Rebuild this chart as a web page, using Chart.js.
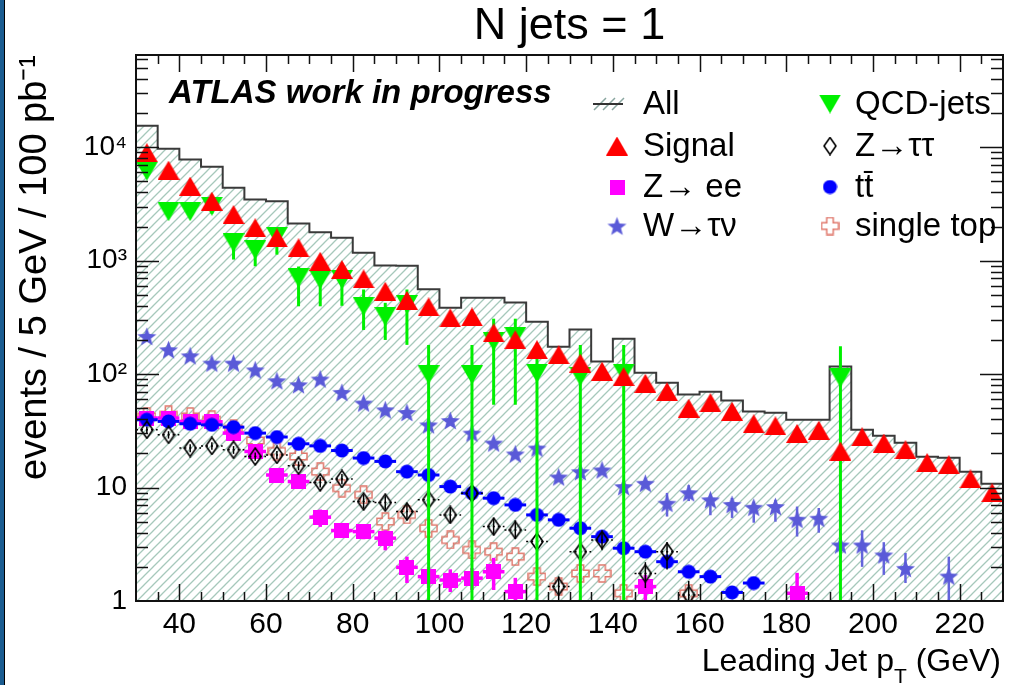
<!DOCTYPE html>
<html>
<head>
<meta charset="utf-8">
<script src="https://cdn.jsdelivr.net/npm/chart.js@4.4.1/dist/chart.umd.min.js"></script>
<style>
    html, body { margin: 0; padding: 0; background: #fff; }
</style>
</head>
<body>
<canvas id="chart_pt" width="1012" height="685"></canvas>
<script>
// 5 GeV bins of the leading jet pT
const binCenters = [32.5, 37.5, 42.5, 47.5, 52.5, 57.5, 62.5, 67.5, 72.5, 77.5,
    82.5, 87.5, 92.5, 97.5, 102.5, 107.5, 112.5, 117.5, 122.5, 127.5,
    132.5, 137.5, 142.5, 147.5, 152.5, 157.5, 162.5, 167.5, 172.5, 177.5,
    182.5, 187.5, 192.5, 197.5, 202.5, 207.5, 212.5, 217.5, 222.5, 227.5];

const allEvents = [15500, 9700, 7800, 6730, 4390, 3460, 3340, 2125, 1782, 1590,
    1172, 905, 900, 560, 385, 472, 472, 427, 290, 174,
    247, 129, 205, 103, 84, 66, 70, 58.6, 46.9, 45.6,
    39.6, 39.6, 117, 32.3, 28.6, 24.8, 18.7, 18.3, 13.8, 10.8];

const signal = [8940, 6280, 4540, 3340, 2550, 1950, 1590, 1297, 988, 835,
    691, 537, 447, 391, 313, 319, 231, 201, 164, 148,
    125, 106, 95, 83, 70, 50, 56, 47, 36.5, 35,
    30, 32, 21, 28, 24.7, 21.5, 16.6, 15.9, 11.9, 9.0];

const qcdJets = [6150, 2700, 2700, 3020, 1435, 1250, 1640, 705, 681, 681,
    396, 323, 411, 98.8, null, 98.8, 194, 215, 102, null,
    95.4, null, 102, null, null, null, null, null, null, null,
    null, null, 92.5, null, null, null, null, null, null, null];
const qcdLo = [5700, 2550, 2550, 2600, 1023, 893, 1130, 396, 396, 400,
    245, 200, 181, 0, null, 0, 53.7, 53.7, 0, null,
    0, null, 0, null, null, null, null, null, null, null,
    null, null, 0, null, null, null, null, null, null, null];
const qcdHi = [6600, 2850, 2850, 3400, 1700, 1483, 1882, 888, 870, 888,
    557, 425, 557, 181, null, 181, 308, 308, 143, null,
    181, null, 181, null, null, null, null, null, null, null,
    null, null, 176, null, null, null, null, null, null, null];

const zee = [41, 41, 38.3, 38, 30.2, 20.8, 12.9, 11.3, 5.48, 4.18,
    4.09, 3.58, 1.98, 1.64, 1.53, 1.59, 1.81, 1.21, null, null,
    null, null, null, 1.34, null, null, null, null, null, null,
    1.17, null, null, null, null, null, null, null, null, null];
const zeeLo = [39, 39, 36, 36, 28.5, 19.3, 11.8, 10.3, 4.5, 3.6,
    3.5, 2.8, 1.44, 1.3, 1.2, 1.25, 1.25, 0.9, null, null,
    null, null, null, 1.0, null, null, null, null, null, null,
    1.0, null, null, null, null, null, null, null, null, null];
const zeeHi = [43, 43, 40.6, 40, 32, 22.4, 14.1, 12.4, 6.4, 4.8,
    4.7, 4.2, 2.46, 2.0, 1.9, 1.95, 2.4, 1.6, null, null,
    null, null, null, 1.7, null, null, null, null, null, null,
    1.77, null, null, null, null, null, null, null, null, null];

const wTauNu = [215, 164, 145, 125, 125, 109, 87.5, 80.6, 90.5, 69,
    55.6, 48.5, 45.9, 35.7, 39, 30.2, 24.7, 19.8, 22.3, 12.4,
    13.8, 14.3, 10.2, 10.9, 7.28, 9.0, 7.8, 7.1, 6.7, 6.8,
    5.26, 5.37, 3.12, 3.12, 2.55, 1.94, null, 1.66, null, null];
const wLo = [null, null, null, null, null, null, null, null, null, null,
    null, null, null, null, null, null, null, null, null, null,
    null, null, null, null, 5.55, 7.6, 5.7, 5.4, 4.9, 5.0,
    3.7, 4.0, 2.4, 2.0, 1.7, 1.44, null, 0, null, null];
const wHi = [null, null, null, null, null, null, null, null, null, null,
    null, null, null, null, null, null, null, null, null, null,
    null, null, null, null, 8.97, 10.5, 8.6, 8.1, 7.5, 7.8,
    6.8, 6.6, 4.0, 4.2, 3.3, 2.65, null, 2.46, null, null];

const zTauTau = [32.3, 29.2, 22.3, 23.3, 21.5, 18.8, 19.4, 15.6, 11.1, 11.9,
    7.53, 7.37, 6.14, 7.79, 5.74, 8.9, 4.53, 4.23, 3.34, 1.34,
    2.72, 3.45, null, 1.75, 2.72, 1.13, null, null, null, null,
    null, null, null, null, null, null, null, null, null, null];
const zttLo = [30, 27, 20.5, 21.5, 19.8, 17.2, 17.8, 14.2, 10, 10.7,
    6.6, 6.4, 5.3, 6.7, 4.9, 7.5, 3.8, 3.5, 2.65, 1.0,
    2.1, 2.8, null, 1.3, 1.9, 0.8, null, null, null, null,
    null, null, null, null, null, null, null, null, null, null];
const zttHi = [34.6, 31.4, 24.1, 25.1, 23.2, 20.4, 21, 17, 12.3, 13.2,
    8.6, 8.4, 7.1, 9.0, 6.7, 10.5, 5.4, 5.1, 4.1, 1.65,
    3.4, 4.1, null, 2.2, 3.3, 1.5, null, null, null, null,
    null, null, null, null, null, null, null, null, null, null];

const ttbar = [39.6, 38.3, 36.5, 35.7, 34.1, 30.2, 27.9, 24.3, 23.3, 21.2,
    18.2, 17.0, 13.8, 12.9, 10.2, 8.92, 8.06, 7.03, 5.74, 5.19,
    4.38, 3.69, 2.92, 2.72, 2.22, 1.81, 1.64, 1.19, 1.44, null,
    null, null, null, null, null, null, null, null, null, null];

const singleTop = [42.4, 43.8, 42.4, 39.6, 33, 26, 21, 18.8, 13.8, 9.88,
    8.62, 5.01, 5.74, 4.38, 3.45, 2.82, 2.72, 2.46, 1.64, 1.34,
    1.75, 1.75, 1.17, null, null, 1.17, null, null, null, null,
    null, null, null, null, null, null, null, null, null, null];

const xTicks = [40, 60, 80, 100, 120, 140, 160, 180, 200, 220];
const yTicks = [1, 10, 100, 1000, 10000];
const yTickLabels = ['1', '10', '10²', '10³', '10⁴'];

const FONT = "'Liberation Sans', Arial, Helvetica, sans-serif";

// marker pictures (ROOT style markers)
const makeMarker = (w, h, draw) => {
    const c = document.createElement('canvas');
    c.width = w;
    c.height = h;
    draw(c.getContext('2d'), w, h);
    return c;
};
const triUp = makeMarker(22, 19, (ctx, w, h) => {
    ctx.fillStyle = '#ff0000';
    ctx.beginPath(); ctx.moveTo(w / 2, 0); ctx.lineTo(w, h); ctx.lineTo(0, h); ctx.closePath(); ctx.fill();
});
const triDown = makeMarker(22, 19, (ctx, w, h) => {
    ctx.fillStyle = '#00f000';
    ctx.beginPath(); ctx.moveTo(0, 0); ctx.lineTo(w, 0); ctx.lineTo(w / 2, h); ctx.closePath(); ctx.fill();
});
const square = makeMarker(15, 15, (ctx, w, h) => {
    ctx.fillStyle = '#ff00ff';
    ctx.fillRect(0, 0, w, h);
});
const circle = makeMarker(15, 15, (ctx) => {
    ctx.fillStyle = '#0000ff';
    ctx.beginPath(); ctx.arc(7.5, 7.5, 7, 0, Math.PI * 2); ctx.fill();
});
const star = makeMarker(21, 21, (ctx) => {
    ctx.fillStyle = '#5a5ad8';
    ctx.beginPath();
    for (let i = 0; i < 10; i++) {
        const r = i % 2 ? 4.2 : 10;
        const a = -Math.PI / 2 + i * Math.PI / 5;
        ctx.lineTo(10.5 + r * Math.cos(a), 11.5 + r * Math.sin(a));
    }
    ctx.closePath(); ctx.fill();
});
const diamond = makeMarker(14, 19, (ctx, w, h) => {
    ctx.strokeStyle = '#000'; ctx.lineWidth = 1.6;
    ctx.beginPath(); ctx.moveTo(w / 2, 1); ctx.lineTo(w - 1, h / 2); ctx.lineTo(w / 2, h - 1); ctx.lineTo(1, h / 2); ctx.closePath(); ctx.stroke();
});
const openCross = makeMarker(19, 19, (ctx) => {
    const a = 1, b = 6.3, c = 12.7, d = 18;
    ctx.strokeStyle = '#e0786c'; ctx.lineWidth = 1.5;
    ctx.beginPath();
    ctx.moveTo(b, a); ctx.lineTo(c, a); ctx.lineTo(c, b); ctx.lineTo(d, b); ctx.lineTo(d, c); ctx.lineTo(c, c);
    ctx.lineTo(c, d); ctx.lineTo(b, d); ctx.lineTo(b, c); ctx.lineTo(a, c); ctx.lineTo(a, b); ctx.lineTo(b, b);
    ctx.closePath(); ctx.stroke();
});

const canvas = document.getElementById('chart_pt');
const hatch = (() => {
    const tile = document.createElement('canvas');
    tile.width = 9; tile.height = 9;
    const t = tile.getContext('2d');
    t.strokeStyle = '#a6c8bb'; t.lineWidth = 1.3;
    t.beginPath();
    t.moveTo(-1, 10); t.lineTo(10, -1);
    t.moveTo(-1, 1); t.lineTo(1, -1);
    t.moveTo(8, 10); t.lineTo(10, 8);
    t.stroke();
    return canvas.getContext('2d').createPattern(tile, 'repeat');
})();

const points = (vals) => vals.map((v, i) => ({ x: binCenters[i], y: v }));
const histogram = binCenters.map((c, i) => ({ x: c - 2.5, y: allEvents[i] }))
    .concat([{ x: binCenters[binCenters.length - 1] + 2.5, y: allEvents[allEvents.length - 1] }]);

const markerSet = (label, vals, style, extra) => Object.assign({
    label: label,
    data: points(vals),
    showLine: false,
    pointStyle: style,
    pointRadius: 8,
    pointHoverRadius: 8,
}, extra || {});

// first dataset is drawn on top
const datasets = [
    markerSet('Signal', signal, triUp),
    markerSet('QCD-jets', qcdJets, triDown, { errLo: qcdLo, errHi: qcdHi, errColor: '#00f000', errWidth: 3 }),
    markerSet('Z→ττ', zTauTau, diamond, { errLo: zttLo, errHi: zttHi, errColor: '#000', errWidth: 1.5, xErr: true, xErrDash: [2, 3] }),
    markerSet('tt̄', ttbar, circle, { xErr: true, errColor: '#0000ff', errWidth: 3 }),
    markerSet('Z→ ee', zee, square, { errLo: zeeLo, errHi: zeeHi, errColor: '#ff00ff', errWidth: 3.5, xErr: true }),
    markerSet('single top', singleTop, openCross),
    markerSet('W→τν', wTauNu, star, { errLo: wLo, errHi: wHi, errColor: '#6464dc', errWidth: 2.5 }),
    {
        label: 'All',
        data: histogram,
        stepped: true,
        fill: 'start',
        backgroundColor: hatch,
        borderColor: '#3a3a3a',
        borderWidth: 2,
        pointRadius: 0,
    },
];

const errorBars = {
    id: 'errorBars',
    beforeDatasetDraw(chart, args) {
        const ds = chart.data.datasets[args.index];
        if (!ds.errLo && !ds.xErr) return;
        const { ctx, chartArea: a, scales: { x, y } } = chart;
        ctx.save();
        ctx.beginPath();
        ctx.rect(a.left, a.top, a.width, a.height);
        ctx.clip();
        ctx.strokeStyle = ds.errColor;
        ctx.lineWidth = ds.errWidth;
        ds.data.forEach((p, i) => {
            if (p.y === null) return;
            const px = x.getPixelForValue(p.x);
            const py = y.getPixelForValue(p.y);
            if (ds.errLo && ds.errLo[i] !== null) {
                ctx.setLineDash([]);
                ctx.beginPath();
                ctx.moveTo(px, y.getPixelForValue(ds.errLo[i]));
                ctx.lineTo(px, y.getPixelForValue(ds.errHi[i]));
                ctx.stroke();
            }
            if (ds.xErr) {
                ctx.setLineDash(ds.xErrDash || []);
                ctx.beginPath();
                ctx.moveTo(x.getPixelForValue(p.x - 2.5), py);
                ctx.lineTo(x.getPixelForValue(p.x + 2.5), py);
                ctx.stroke();
            }
        });
        ctx.restore();
    }
};

const frameTicks = {
    id: 'frameTicks',
    afterDatasetsDraw(chart) {
        const { ctx, chartArea: a, scales: { x, y } } = chart;
        ctx.save();
        ctx.strokeStyle = '#111';
        ctx.lineWidth = 2;
        ctx.strokeRect(a.left, a.top, a.width, a.height);
        ctx.lineWidth = 1.5;
        ctx.beginPath();
        for (let v = 35; v < 230; v += 5) {
            const px = Math.round(x.getPixelForValue(v)) + 0.5;
            const len = xTicks.includes(v) ? 17 : 9;
            ctx.moveTo(px, a.bottom); ctx.lineTo(px, a.bottom - len);
            ctx.moveTo(px, a.top); ctx.lineTo(px, a.top + len);
        }
        for (let d = 1; d <= 10000; d *= 10) {
            for (let m = 1; m <= 9; m++) {
                const v = d * m;
                if (v <= 1 || v >= y.max) continue;
                const py = Math.round(y.getPixelForValue(v)) + 0.5;
                const len = m === 1 ? 23 : 12;
                ctx.moveTo(a.left, py); ctx.lineTo(a.left + len, py);
                ctx.moveTo(a.right, py); ctx.lineTo(a.right - len, py);
            }
        }
        ctx.stroke();
        ctx.restore();
    }
};

const legendRows = [104, 146, 187, 226];
const legendItems = [
    { text: 'All', col: 0, row: 0, marker: null },
    { text: 'Signal', col: 0, row: 1, marker: triUp },
    { text: 'Z→ ee', col: 0, row: 2, marker: square },
    { text: 'W→τν', col: 0, row: 3, marker: star },
    { text: 'QCD-jets', col: 1, row: 0, marker: triDown },
    { text: 'Z→ττ', col: 1, row: 1, marker: diamond },
    { text: 'tt̄', col: 1, row: 2, marker: circle },
    { text: 'single top', col: 1, row: 3, marker: openCross },
];
const legendCols = [{ mx: 617, tx: 643 }, { mx: 830, tx: 855 }];

const annotations = {
    id: 'annotations',
    beforeDraw(chart) {
        const ctx = chart.ctx;
        ctx.save();
        ctx.fillStyle = '#1b5d91';
        ctx.fillRect(0, 0, 4, chart.height);
        ctx.fillStyle = '#000';
        ctx.fillRect(4, 0, 1, chart.height);
        ctx.restore();
    },
    afterDraw(chart) {
        const ctx = chart.ctx;
        ctx.save();
        ctx.fillStyle = '#000';
        ctx.textBaseline = 'alphabetic';
        ctx.textAlign = 'left';
        ctx.font = 'italic bold 33px ' + FONT;
        ctx.fillText('ATLAS work in progress', 169, 103);

        // legend
        ctx.font = '33px ' + FONT;
        ctx.textBaseline = 'middle';
        legendItems.forEach((it) => {
            const col = legendCols[it.col];
            const yy = legendRows[it.row];
            if (it.marker) {
                ctx.drawImage(it.marker, col.mx - it.marker.width / 2, yy - it.marker.height / 2);
            } else {
                ctx.save();
                ctx.strokeStyle = '#8aa6a0'; ctx.lineWidth = 1.5;
                ctx.beginPath();
                for (let k = 0; k < 3; k++) {
                    ctx.moveTo(594 + k * 9, yy + 6); ctx.lineTo(606 + k * 9, yy - 6);
                }
                ctx.stroke();
                ctx.strokeStyle = '#333'; ctx.lineWidth = 2;
                ctx.beginPath(); ctx.moveTo(593, yy); ctx.lineTo(623, yy); ctx.stroke();
                ctx.restore();
            }
            ctx.fillText(it.text, col.tx, yy + 1);
        });

        // x axis title with subscript
        ctx.textBaseline = 'alphabetic';
        const main = 'Leading Jet p';
        const tail = ' (GeV)';
        ctx.font = '32px ' + FONT;
        const wMain = ctx.measureText(main).width;
        const wTail = ctx.measureText(tail).width;
        ctx.font = '21px ' + FONT;
        const wSub = ctx.measureText('T').width;
        const right = chart.chartArea.right - 2;
        const x0 = right - wTail - wSub - wMain;
        ctx.font = '32px ' + FONT;
        ctx.fillText(main, x0, 671);
        ctx.fillText(tail, x0 + wMain + wSub, 671);
        ctx.font = '21px ' + FONT;
        ctx.fillText('T', x0 + wMain, 683);
        ctx.restore();
    }
};

const options = {
    responsive: false,
    animation: false,
    events: [],
    layout: { padding: { left: 0, right: 2, top: 0, bottom: 0 } },
    plugins: {
        legend: { display: false },
        tooltip: { enabled: false },
        title: {
            display: true,
            fullSize: false,
            text: 'N jets = 1',
            color: '#000',
            font: { family: FONT, size: 45, weight: 'normal', lineHeight: 1.2 },
            padding: { top: 0, bottom: 1 },
        },
    },
    scales: {
        x: {
            type: 'linear',
            min: 30,
            max: 230,
            grid: { display: false, drawTicks: false },
            border: { display: false },
            afterFit: (scale) => { scale.height = 84; },
            afterBuildTicks: (scale) => { scale.ticks = xTicks.map((v) => ({ value: v })); },
            ticks: {
                color: '#000',
                padding: 6,
                maxRotation: 0,
                font: { family: FONT, size: 30 },
            },
        },
        y: {
            type: 'logarithmic',
            min: 1,
            max: 65000,
            grid: { display: false, drawTicks: false },
            border: { display: false },
            afterFit: (scale) => { scale.width = 136; },
            afterBuildTicks: (scale) => { scale.ticks = yTicks.map((v) => ({ value: v })); },
            ticks: {
                color: '#000',
                padding: 9,
                font: { family: FONT, size: 28 },
                callback: (value, index) => yTickLabels[index],
            },
            title: {
                display: true,
                text: 'events / 5 GeV / 100 pb⁻¹',
                align: 'end',
                color: '#000',
                font: { family: FONT, size: 38 },
                padding: { top: 13, bottom: 0 },
            },
        },
    },
};

const chart = new Chart(canvas, {
    type: 'line',
    data: { datasets: datasets },
    options: options,
    plugins: [errorBars, frameTicks, annotations],
});
</script>
</body>
</html>
